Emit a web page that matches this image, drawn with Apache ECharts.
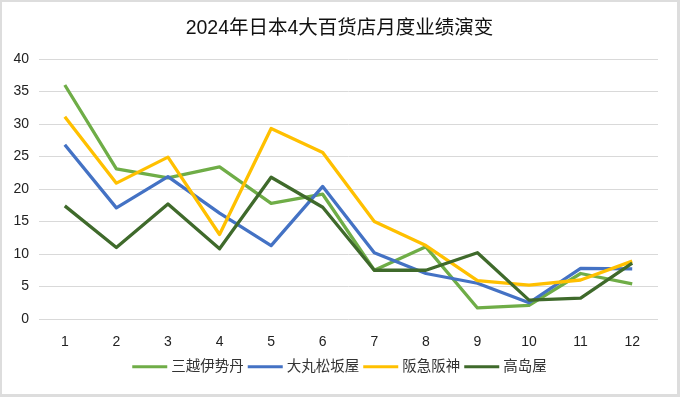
<!DOCTYPE html>
<html>
<head>
<meta charset="utf-8">
<script src="https://cdn.jsdelivr.net/npm/echarts@6/dist/echarts.min.js"></script>
<style>
    html, body { margin: 0; padding: 0; background: #fff; }
    #main {
        width: 680px; height: 397px; box-sizing: border-box;
        border-style: solid; border-color: #dddddd;
        border-width: 2px 3px 3px 2px;
    }
</style>
</head>
<body>
<div id="main"></div>
<script>
var months = ['1', '2', '3', '4', '5', '6', '7', '8', '9', '10', '11', '12'];
var seriesNames = ['三越伊势丹', '大丸松坂屋', '阪急阪神', '高岛屋'];
var mitsukoshi = [36.0, 23.1, 21.7, 23.4, 17.8, 19.2, 7.5, 11.1, 1.7, 2.1, 7.0, 5.4];
var daimaru = [26.8, 17.1, 21.9, 16.3, 11.3, 20.4, 10.2, 7.0, 5.5, 2.5, 7.8, 7.7];
var hankyu = [31.1, 20.9, 24.9, 13.0, 29.3, 25.6, 15.0, 11.3, 5.9, 5.2, 6.0, 8.9];
var takashimaya = [17.4, 11.0, 17.7, 10.8, 21.8, 17.2, 7.5, 7.5, 10.2, 2.9, 3.2, 8.6];
var colors = ['#6fad47', '#4472c4', '#ffc000', '#3f6a2b'];

var font = '"Liberation Sans", "Noto Sans CJK SC", sans-serif';
var chart = echarts.init(document.getElementById('main'));

function makeLine(name, data, color) {
    return {
        name: name,
        type: 'line',
        data: data,
        symbol: 'none',
        color: color,
        lineStyle: { width: 3.3, color: color, join: 'round' }
    };
}

var option = {
    animation: false,
    textStyle: { fontFamily: font },
    title: {
        text: '2024年日本4大百货店月度业绩演变',
        left: 'center',
        top: 12,
        textStyle: { fontSize: 19.5, fontWeight: 'normal', color: '#111', fontFamily: font }
    },
    legend: {
        data: seriesNames,
        bottom: 15,
        left: 'center',
        icon: 'rect',
        itemWidth: 35,
        itemHeight: 3,
        itemGap: 4,
        textStyle: { fontSize: 14.5, color: '#333', padding: [0, 0, 0, -1] }
    },
    grid: { left: 37, right: 19, top: 57, bottom: 75 },
    xAxis: {
        type: 'category',
        data: months,
        boundaryGap: true,
        axisLine: { show: false },
        axisTick: { show: false },
        axisLabel: { fontSize: 14, color: '#222', margin: 16 }
    },
    yAxis: {
        type: 'value',
        min: 0,
        max: 40,
        interval: 5,
        axisLine: { show: false },
        axisTick: { show: false },
        axisLabel: { fontSize: 14, color: '#222', margin: 10 },
        splitLine: { lineStyle: { color: '#d9d9d9', width: 1 } }
    },
    series: [
        makeLine(seriesNames[0], mitsukoshi, colors[0]),
        makeLine(seriesNames[1], daimaru, colors[1]),
        makeLine(seriesNames[2], hankyu, colors[2]),
        makeLine(seriesNames[3], takashimaya, colors[3])
    ]
};
chart.setOption(option);
</script>
</body>
</html>
